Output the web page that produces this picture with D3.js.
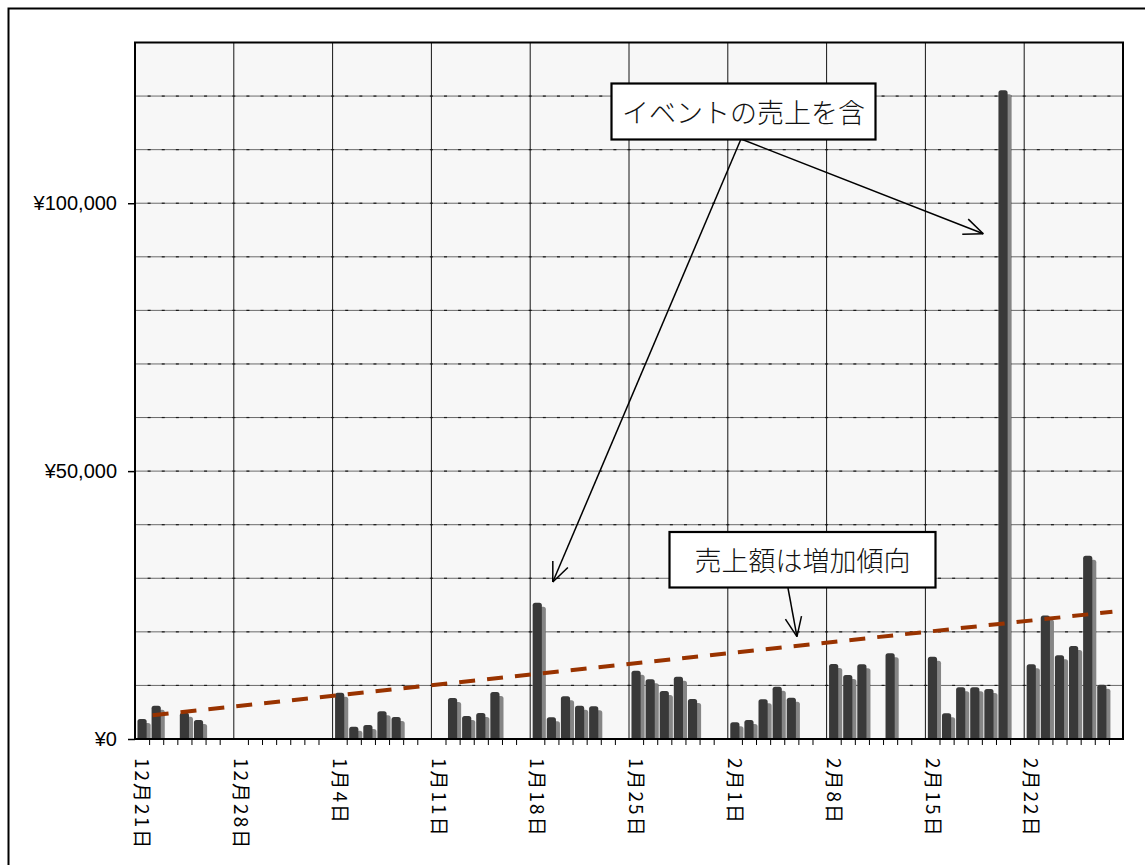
<!DOCTYPE html>
<html>
<head>
<meta charset="utf-8">
<script src="https://cdn.jsdelivr.net/npm/d3@7"></script>
<style>
  html, body { margin: 0; padding: 0; background: #fff; }
  svg { display: block; }
</style>
</head>
<body>
<svg id="chart" width="1145" height="865"></svg>
<script>
// Daily sales, 12/21 through 2/28 (null = no sales that day)
const dayCount = 70;
const sales = [
  3730, 6220, null, 4910, 3540, null, null,          // 12/21 - 12/27
  null, null, null, null, null, null, null,          // 12/28 - 1/3
  8640, 2300, 2610, 5160, 4100, null, null,          // 1/4 - 1/10
  null, 7650, 4290, 4850, 8770, null, null,          // 1/11 - 1/17
  25430, 4050, 7960, 6220, 6100, null, null,         // 1/18 - 1/24
  12740, 11130, 8950, 11630, 7460, null, null,       // 1/25 - 1/31
  3110, 3540, 7400, 9760, 7710, null, null,          // 2/1 - 2/7
  13990, 11940, 13930, null, 15990, null, null,      // 2/8 - 2/14
  15360, 4790, 9640, 9640, 9330, 121080, null,       // 2/15 - 2/21
  13930, 23070, 15610, 17350, 34200, 10130, null     // 2/22 - 2/28
];

// Week-start labels on the date axis
const tickDays = [0, 7, 14, 21, 28, 35, 42, 49, 56, 63];
const tickLabels = ["12月21日", "12月28日", "1月4日", "1月11日", "1月18日",
                    "1月25日", "2月1日", "2月8日", "2月15日", "2月22日"];

// Value axis
const yMax = 130000;
const yGridStep = 10000;
const yLabelValues = [0, 50000, 100000];

// Linear trend (day index, value) at its two ends
const trendDays = [0.75, 68.75];
const trendValues = [4420, 23750];

// Callouts: text and the points their arrows aim at (day index, value)
const eventNote = "イベントの売上を含";
const eventTargets = [{ day: 29.1, value: 29300 }, { day: 59.6, value: 94300 }];
const trendNote = "売上額は増加傾向";
const trendTarget = { day: 46.4, value: 19100 };

// ---------------------------------------------------------------
const svg = d3.select("#chart");
const plot = { left: 135, right: 1123, top: 42.5, bottom: 739 };

const xLin = d3.scaleLinear().domain([0, dayCount]).range([plot.left, plot.right]);
const xBand = d3.scaleBand().domain(d3.range(dayCount))
  .range([plot.left, plot.right]).paddingInner(0.35).paddingOuter(0.175);
const y = d3.scaleLinear().domain([0, yMax]).range([plot.bottom, plot.top]);
const xCenter = d => xLin(d + 0.5);

// outer frame
svg.append("path")
  .attr("d", `M8.5,880V8.5H1160`)
  .attr("fill", "none").attr("stroke", "#000").attr("stroke-width", 2);

// plot background
svg.append("rect")
  .attr("x", plot.left).attr("y", plot.top)
  .attr("width", plot.right - plot.left).attr("height", plot.bottom - plot.top)
  .attr("fill", "#f7f7f7");

svg.append("clipPath").attr("id", "plotClip").append("rect")
  .attr("x", plot.left).attr("y", plot.top)
  .attr("width", plot.right - plot.left).attr("height", plot.bottom - plot.top);

// horizontal grid
const gridValues = d3.range(yGridStep, yMax, yGridStep);
svg.append("g").selectAll("line").data(gridValues).join("line")
  .attr("x1", plot.left).attr("x2", plot.right)
  .attr("y1", d => y(d)).attr("y2", d => y(d))
  .attr("stroke", "#6a6a6a").attr("stroke-width", 1);

// small dark marks where each day boundary meets a grid line
const dayBounds = d3.range(1, dayCount);
const marks = [];
gridValues.forEach(v => dayBounds.forEach(k => marks.push({ k, v })));
svg.append("g").selectAll("line").data(marks).join("line")
  .attr("x1", d => xLin(d.k) - 1.5).attr("x2", d => xLin(d.k) + 1.5)
  .attr("y1", d => y(d.v)).attr("y2", d => y(d.v))
  .attr("stroke", "#1a1a1a").attr("stroke-width", 1.2);

// weekly vertical grid
svg.append("g").selectAll("line").data(tickDays.slice(1)).join("line")
  .attr("x1", d => xLin(d)).attr("x2", d => xLin(d))
  .attr("y1", plot.top).attr("y2", plot.bottom)
  .attr("stroke", "#151515").attr("stroke-width", 1);

// bars with drop shadow
function roundedTop(x, yTop, w, h, r) {
  r = Math.min(r, w / 2, h);
  return `M${x},${yTop + h}V${yTop + r}Q${x},${yTop} ${x + r},${yTop}` +
         `H${x + w - r}Q${x + w},${yTop} ${x + w},${yTop + r}V${yTop + h}Z`;
}
const barData = sales.map((v, i) => ({ i, v })).filter(d => d.v != null);
const bars = svg.append("g").attr("clip-path", "url(#plotClip)");
const shadowOff = 4;
bars.selectAll("path.shadow").data(barData).join("path")
  .attr("class", "shadow")
  .attr("d", d => roundedTop(xBand(d.i) + shadowOff, y(d.v) + shadowOff,
                             xBand.bandwidth(), plot.bottom - y(d.v), 2.5))
  .attr("fill", "#858585");
bars.selectAll("path.bar").data(barData).join("path")
  .attr("class", "bar")
  .attr("d", d => roundedTop(xBand(d.i), y(d.v), xBand.bandwidth(), plot.bottom - y(d.v), 2.5))
  .attr("fill", "#393939");

// trend line
const trendPts = trendDays.map((d, k) => [xCenter(d), y(trendValues[k])]);
svg.append("path")
  .attr("d", d3.line()(trendPts))
  .attr("fill", "none").attr("stroke", "#993300")
  .attr("stroke-width", 4).attr("stroke-dasharray", "16 12.03");

// plot border
svg.append("rect")
  .attr("x", plot.left).attr("y", plot.top)
  .attr("width", plot.right - plot.left).attr("height", plot.bottom - plot.top)
  .attr("fill", "none").attr("stroke", "#000").attr("stroke-width", 2);

// y axis
const yAxis = d3.axisLeft(y).tickValues(yLabelValues).tickSize(7).tickPadding(11)
  .tickFormat(d => "¥" + d3.format(",")(d));
const gy = svg.append("g").attr("transform", `translate(${plot.left},0)`).call(yAxis);
gy.select(".domain").remove();
gy.selectAll("line").attr("stroke", "#000").attr("stroke-width", 1.5);
gy.selectAll("text").attr("font-family", "'Liberation Sans', Arial, sans-serif")
  .attr("font-size", 20).attr("fill", "#000");

// x axis: day ticks (no tick on week boundaries)
const minorDays = dayBounds.filter(k => k % 7 !== 0);
const xTicks = d3.axisBottom(xLin).tickValues(minorDays).tickSize(6).tickFormat("");
const gx = svg.append("g").attr("transform", `translate(0,${plot.bottom})`).call(xTicks);
gx.select(".domain").remove();
gx.selectAll("line").attr("stroke", "#000").attr("stroke-width", 1);

// x axis: rotated date labels at week starts
const xLabels = d3.axisBottom(xBand).tickValues(tickDays).tickSize(0)
  .tickFormat(d => tickLabels[tickDays.indexOf(d)]);
const gl = svg.append("g").attr("transform", `translate(0,${plot.bottom})`).call(xLabels);
gl.select(".domain").remove();
gl.selectAll("text")
  .attr("font-family", "'Noto Sans CJK JP', sans-serif")
  .attr("font-size", 19).attr("letter-spacing", "2px").attr("fill", "#000")
  .attr("text-anchor", "start").attr("dy", "0.36em")
  .attr("transform", "translate(0,19) rotate(90)")
  .attr("x", 0).attr("y", 0);

// callouts
function arrow(g, x1, y1, x2, y2) {
  g.append("line").attr("x1", x1).attr("y1", y1).attr("x2", x2).attr("y2", y2)
    .attr("stroke", "#000").attr("stroke-width", 1.5);
  const a = Math.atan2(y1 - y2, x1 - x2), len = 21, half = 0.4;
  [a - half, a + half].forEach(t => {
    g.append("line").attr("x1", x2).attr("y1", y2)
      .attr("x2", x2 + len * Math.cos(t)).attr("y2", y2 + len * Math.sin(t))
      .attr("stroke", "#000").attr("stroke-width", 1.5);
  });
}
function noteBox(g, x, yTop, w, h, text) {
  g.append("rect").attr("x", x).attr("y", yTop).attr("width", w).attr("height", h)
    .attr("fill", "#fff").attr("stroke", "#000").attr("stroke-width", 2.2);
  g.append("text").attr("x", x + w / 2).attr("y", yTop + h / 2)
    .attr("text-anchor", "middle").attr("dominant-baseline", "central")
    .attr("font-family", "'Noto Sans CJK JP', sans-serif").attr("font-weight", 300)
    .attr("font-size", 27).attr("fill", "#111").text(text);
}
const notes = svg.append("g");
eventTargets.forEach(t => arrow(notes, 741, 139, xCenter(t.day), y(t.value)));
arrow(notes, 788, 588, xCenter(trendTarget.day), y(trendTarget.value));
noteBox(notes, 611.5, 83.5, 264, 56, eventNote);
noteBox(notes, 669.5, 532, 266, 55.5, trendNote);
</script>
</body>
</html>
